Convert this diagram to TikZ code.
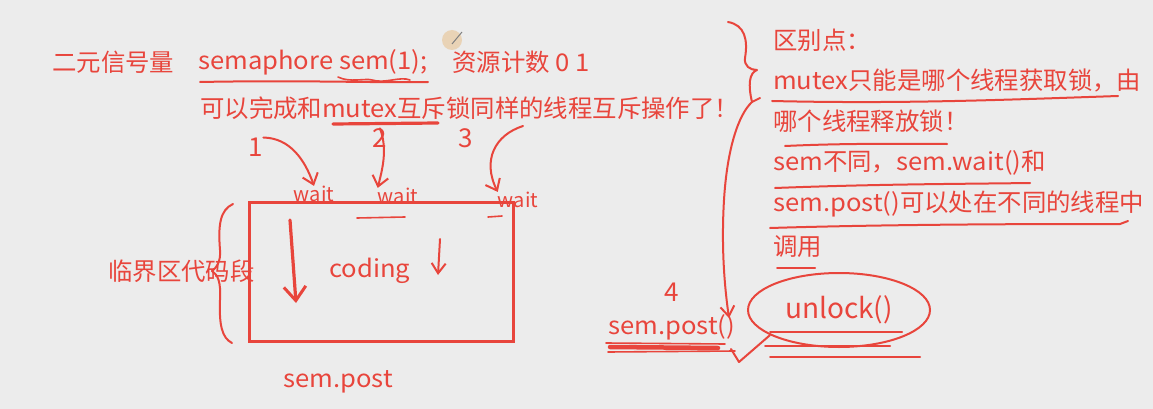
\documentclass[tikz,border=0pt]{standalone}
\usepackage{fontspec}
\setmainfont{Noto Sans CJK SC}
\newfontfamily\lat{Noto Sans CJK SC}[FakeStretch=1.05]
\usetikzlibrary{arrows.meta,shapes.geometric}
\definecolor{ink}{HTML}{E8453C}
\definecolor{bg}{HTML}{ECECEC}
\definecolor{cursor}{HTML}{E9C9A0}
\begin{document}
\begin{tikzpicture}[x=1pt,y=-1pt,
  font=\fontsize{24.4}{28}\selectfont,
  txt/.style={anchor=west,inner sep=0pt,text=ink},
  hand/.style={inner sep=0pt,text=ink,font=\fontsize{26}{28}\selectfont},
  waitlbl/.style={inner sep=0pt,text=ink,font=\fontsize{20}{22}\selectfont},
  pen/.style={draw=ink,line width=2pt,line cap=round,line join=round},
  fatpen/.style={draw=ink,line width=3.2pt,line cap=round,line join=round},
  arr/.style={pen,-{Straight Barb[length=10pt,width=16pt,line width=2pt]}}]
\fill[bg] (0,0) rectangle (1153,409);
\useasboundingbox (0,0) rectangle (1153,409);
% cursor mark
\fill[cursor,opacity=0.7] (452,40) circle (10);
\draw[gray,line width=1pt] (452,44) -- (462,32);
% top texts
\node[txt] (t1) at (52,62) {二元信号量};
\node[txt] (t2) at (198,62) {\lat semaphore sem(1);};
\node[txt] (t3) at (452,62) {资源计数 {\lat 0 1}};
\node[txt] (t4) at (200,108) {可以完成和{\lat mutex}互斥锁同样的线程互斥操作了！};
\draw[pen] (200,82) .. controls (300,80) and (380,83) .. (428,82);
\draw[pen,line width=1.6pt] (338,77) .. controls (350,83) and (365,78) .. (372,80) .. controls (385,84) and (400,76) .. (410,80);
\draw[fatpen] (333,124) -- (438,123);
% numbers and wait labels
\node[hand] (n1) at (256,147) {1};
\node[hand] (n2) at (380,138) {2};
\node[hand] (n3) at (466,138) {3};
\node[hand] (n4) at (672,292) {4};
\node[waitlbl] (w1) at (314,194) {wait};
\node[waitlbl] (w2) at (398,196) {wait};
\node[waitlbl] (w3) at (518,200) {wait};
\draw[arr] (n1.north east) .. controls (290,138) and (305,160) .. (w1.north);
\draw[arr] (n2.north) .. controls (388,150) and (382,170) .. (w2.north west);
\draw[arr] (523,126) .. controls (495,135) and (482,160) .. (w3.north west);
\draw[pen,line width=1.6pt] (357,218) -- (405,217);
\draw[pen,line width=1.6pt] (488,217) -- (502,216);
% critical section box
\node[draw=ink,line width=2.6pt,minimum width=264,minimum height=139,anchor=north west,inner sep=0pt] (box) at (248,201) {};
\node[txt] (coding) at (329,271) {\lat coding};
\node[txt] (crit) at (108,271) {临界区代码段};
\node[txt] (post) at (283,382) {\lat sem.post};
\coordinate (a1) at (290,220);
\coordinate (a2) at (296,303);
\draw[fatpen,-{Straight Barb[length=14pt,width=22pt,line width=3pt]}] (a1) -- (a2);
\coordinate (b1) at (440,239);
\coordinate (b2) at (438,275);
\draw[pen,-{Straight Barb[length=10pt,width=14pt,line width=2pt]}] (b1) -- (b2);
% left brace
\draw[pen] (233,204) .. controls (220,210) and (218,225) .. (220,250)
  .. controls (221,262) and (216,268) .. (212,271)
  .. controls (218,275) and (221,282) .. (220,300)
  .. controls (219,325) and (222,338) .. (232,343);
% right texts
\node[txt] (r1) at (773,40) {区别点：};
\node[txt] (r2) at (773,80) {{\lat mutex}只能是哪个线程获取锁，由};
\node[txt] (r3) at (773,121) {哪个线程释放锁！};
\node[txt] (r4) at (773,163) {{\lat sem}不同，{\lat sem.wait()}和};
\node[txt] (r5) at (773,204) {{\lat sem.post()}可以处在不同的线程中};
\node[txt] (r6) at (773,247) {调用};
\draw[pen] (772,101) .. controls (900,104) and (1000,100) .. (1118,96);
\draw[pen] (785,146) .. controls (850,143) and (900,144) .. (947,144);
\draw[pen] (775,188) .. controls (880,184) and (960,184) .. (1030,183);
\draw[pen] (770,228) .. controls (900,224) and (1050,224) .. (1120,224) -- (1128,221);
\draw[pen] (777,268) -- (815,268);
% right brace with arrow to sem.post()
\node[txt] (sp) at (608,327) {\lat sem.post()};
\coordinate (bt) at (729,318);
\draw[pen,-{Straight Barb[length=10pt,width=14pt,line width=2pt]}]
  (728,22) .. controls (745,25) and (748,40) .. (745,58)
  .. controls (744,66) and (750,70) .. (757,70)
  .. controls (749,73) and (748,85) .. (752,102)
  .. controls (738,115) and (727,150) .. (724,200)
  .. controls (721,250) and (725,290) .. (bt);
\draw[pen] (752,102) -- (760,98);
% scribbled underline under sem.post()
\draw[draw=ink,line width=4.5pt,line cap=round] (610,347) -- (718,348);
\draw[pen,line width=1.6pt] (606,343) -- (725,344);
\draw[pen,line width=1.6pt] (608,352) -- (735,351);
% unlock ellipse
\node[ellipse,draw=ink,line width=2pt,minimum width=182,minimum height=74,inner sep=0pt,text=ink,font=\fontsize{28}{30}\selectfont] (ul) at (839,310) {unlock()};
\draw[pen] (731,349) -- (739,362) -- (ul.200);
\draw[pen] (770,332) -- (902,332);
\draw[pen] (765,346) -- (890,346);
\draw[pen] (770,357) -- (920,357);
\end{tikzpicture}
\end{document}
